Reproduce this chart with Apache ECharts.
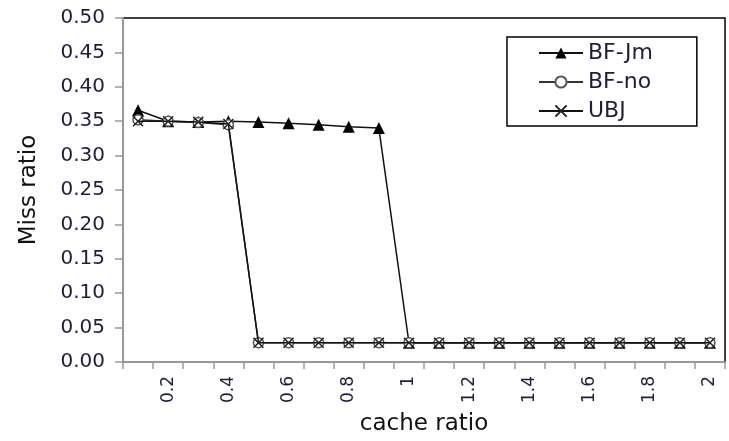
<!DOCTYPE html>
<html>
<head>
<meta charset="utf-8">
<script src="https://cdn.jsdelivr.net/npm/echarts@6/dist/echarts.min.js"></script>
<style>html,body{margin:0;padding:0;background:#fff}#c{width:729px;height:441px}</style>
</head>
<body>
<div id="c"></div>
<script>
const categories = ['0.1','0.2','0.3','0.4','0.5','0.6','0.7','0.8','0.9','1','1.1','1.2','1.3','1.4','1.5','1.6','1.7','1.8','1.9','2'];
const bfJm = [0.366,0.350,0.349,0.350,0.349,0.347,0.345,0.342,0.340,0.028,0.028,0.028,0.028,0.028,0.028,0.028,0.028,0.028,0.028,0.028];
const bfNo = [0.352,0.350,0.348,0.345,0.028,0.028,0.028,0.028,0.028,0.028,0.028,0.028,0.028,0.028,0.028,0.028,0.028,0.028,0.028,0.028];
const ubj  = [0.350,0.350,0.349,0.346,0.028,0.028,0.028,0.028,0.028,0.028,0.028,0.028,0.028,0.028,0.028,0.028,0.028,0.028,0.028,0.028];
const yMin = 0, yMax = 0.5, yStep = 0.05;

const FONT = 'DejaVu Sans';
const chart = echarts.init(document.getElementById('c'), null, {renderer:'canvas'});
chart.setOption({
  animation:false,
  backgroundColor:'#fff',
  grid:{left:123,right:4,top:18,bottom:79,show:true,borderColor:'#000',borderWidth:1.5,backgroundColor:'transparent'},
  legend:{
    orient:'vertical', left:507, top:37,
    padding:[5,44,4,31], itemGap:7, itemWidth:44, itemHeight:14,
    borderColor:'#000', borderWidth:1.5, backgroundColor:'#fff',
    textStyle:{fontFamily:FONT,fontSize:22,color:'#1e1e3c'},
    data:['BF-Jm','BF-no','UBJ']
  },
  xAxis:{
    type:'category', data:categories, boundaryGap:true,
    name:'cache ratio', nameLocation:'middle', nameGap:51,
    nameTextStyle:{fontFamily:FONT,fontSize:23,color:'#111'},
    axisLine:{lineStyle:{color:'#999',width:2}},
    axisTick:{show:true,interval:0,length:7,lineStyle:{color:'#999',width:1.5}},
    axisLabel:{rotate:90,fontFamily:FONT,fontSize:17,color:'#1e1e3c',margin:14,
      interval:function(i){return i%2===1;}},
    splitLine:{show:false}
  },
  yAxis:{
    type:'value', min:yMin, max:yMax, interval:yStep,
    name:'Miss ratio', nameLocation:'middle', nameGap:82,
    nameTextStyle:{fontFamily:FONT,fontSize:23,color:'#111'},
    axisLine:{show:true,lineStyle:{color:'#999',width:2}},
    axisTick:{show:true,length:8,lineStyle:{color:'#999',width:1.5}},
    axisLabel:{fontFamily:FONT,fontSize:20,color:'#1e1e3c',margin:18,
      formatter:function(v){return v.toFixed(2);}},
    splitLine:{show:false}
  },
  series:[
    {name:'BF-Jm',type:'line',data:bfJm,symbol:'triangle',symbolSize:12,
      lineStyle:{color:'#111',width:1.5},itemStyle:{color:'#000'},z:3},
    {name:'BF-no',type:'line',data:bfNo,symbol:'circle',symbolSize:10,showAllSymbol:true,
      lineStyle:{color:'#333',width:1.5},itemStyle:{color:'#fff',borderColor:'#555',borderWidth:1.5},z:4},
    {name:'UBJ',type:'line',data:ubj,symbol:'path://M0,0L10,10M10,0L0,10',symbolSize:10,
      lineStyle:{color:'#111',width:1.5},itemStyle:{color:'#222',borderColor:'#222',borderWidth:1.5},z:5}
  ]
});
</script>
</body>
</html>
